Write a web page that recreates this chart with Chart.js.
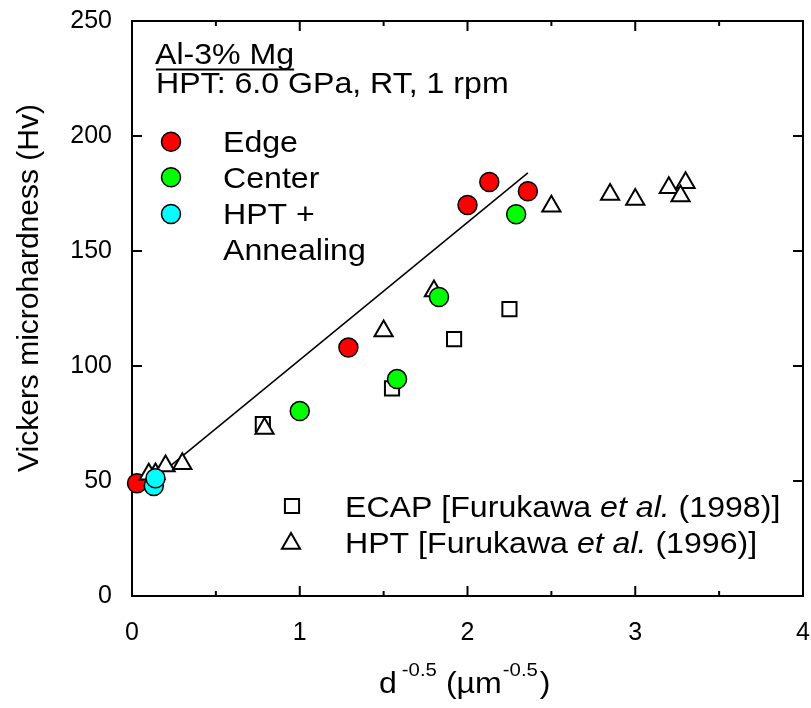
<!DOCTYPE html>
<html>
<head>
<meta charset="utf-8">
<script src="https://cdn.jsdelivr.net/npm/chart.js@4.4.1/dist/chart.umd.min.js"></script>
<style>
  html, body { margin: 0; padding: 0; background: #fff; }
</style>
</head>
<body>
<canvas id="hvChart" width="811" height="708"></canvas>
<script>
// values: [d^-0.5, Hv]
const edgePts = [[0.03, 49], [1.29, 108], [2.00, 170], [2.13, 180], [2.36, 176]];
const centerPts = [[1.00, 80.4], [1.58, 94.3], [1.83, 130], [2.29, 166]];
const annealPts = [[0.13, 47.8], [0.14, 51.2]];
const ecapPts = [[0.78, 74.8], [1.55, 90.3], [1.92, 111.7], [2.25, 124.7]];
const hptPts = [[0.10, 52.9], [0.14, 53], [0.20, 56.5], [0.30, 57.5], [0.79, 72.8], [1.50, 115.2],
                [1.80, 132.6], [2.50, 169.5], [2.85, 174.6], [3.00, 172.4], [3.20, 177.5], [3.30, 179.7], [3.27, 173.9]];
const fitLine = [[0.22, 56], [2.36, 184]];

const xTicks = [0, 0.5, 1, 1.5, 2, 2.5, 3, 3.5, 4];
const yTicks = [0, 50, 100, 150, 200, 250];

const FONT = "'Liberation Sans', Arial, sans-serif";
const SX = 1.07; // the original text is a little wider than Arial

const toXY = pts => pts.map(p => ({ x: p[0], y: p[1] }));

function txt(ctx, s, x, y, size, italic) {
    ctx.save();
    ctx.font = (italic ? "italic " : "") + size + "px " + FONT;
    ctx.translate(x, y);
    ctx.scale(SX, 1);
    ctx.fillText(s, 0, 0);
    const w = ctx.measureText(s).width * SX;
    ctx.restore();
    return x + w;
}

const framePlugin = {
    id: "frame",
    beforeDatasetsDraw(chart) {
        const { ctx, chartArea: a, scales: { x, y } } = chart;
        ctx.save();
        ctx.strokeStyle = "#000";
        ctx.lineWidth = 2;
        ctx.strokeRect(a.left, a.top, a.right - a.left, a.bottom - a.top);
        ctx.beginPath();
        xTicks.forEach(v => {
            const px = x.getPixelForValue(v);
            const len = Number.isInteger(v) ? 10 : 5;
            ctx.moveTo(px, a.bottom); ctx.lineTo(px, a.bottom - len);
            ctx.moveTo(px, a.top); ctx.lineTo(px, a.top + len);
        });
        yTicks.forEach(v => {
            const py = y.getPixelForValue(v);
            ctx.moveTo(a.left, py); ctx.lineTo(a.left + 10, py);
            ctx.moveTo(a.right, py); ctx.lineTo(a.right - 10, py);
        });
        ctx.stroke();
        ctx.restore();
    },
    afterDraw(chart) {
        const { ctx } = chart;
        const dp = Chart.helpers.drawPoint;
        ctx.save();
        ctx.fillStyle = "#000";
        ctx.textBaseline = "alphabetic";

        // heading
        const endA = txt(ctx, "Al-3% Mg", 155, 64, 30);
        ctx.fillRect(156, 68.5, endA - 156, 2);
        txt(ctx, "HPT: 6.0 GPa, RT, 1 rpm", 156, 93, 30);

        // upper legend
        [["#ff0000", 141.7], ["#00ff00", 177.3], ["#00ffff", 214]].forEach(([c, cy]) => {
            ctx.beginPath();
            ctx.arc(171, cy, 9.5, 0, Math.PI * 2);
            ctx.fillStyle = c; ctx.fill();
            ctx.lineWidth = 1.5; ctx.strokeStyle = "#000"; ctx.stroke();
        });
        ctx.fillStyle = "#000";
        txt(ctx, "Edge", 223, 152, 30);
        txt(ctx, "Center", 223, 188, 30);
        txt(ctx, "HPT +", 223, 224, 30);
        txt(ctx, "Annealing", 223, 260, 30);

        // lower legend
        ctx.fillStyle = "#fff";
        ctx.strokeStyle = "#000";
        ctx.lineWidth = 2;
        dp(ctx, { pointStyle: "rect", rotation: 0, radius: 10, borderWidth: 2 }, 292, 506);
        dp(ctx, { pointStyle: "triangle", rotation: 0, radius: 10.5, borderWidth: 2 }, 291, 543.6);
        ctx.fillStyle = "#000";
        let xx = txt(ctx, "ECAP [Furukawa ", 345, 517, 30);
        xx = txt(ctx, "et al.", xx, 517, 30, true);
        txt(ctx, " (1998)]", xx, 517, 30);
        xx = txt(ctx, "HPT [Furukawa ", 345, 553, 30);
        xx = txt(ctx, "et al.", xx, 553, 30, true);
        txt(ctx, " (1996)]", xx, 553, 30);

        // x title
        let tx = txt(ctx, "d", 379, 693, 30);
        tx = txt(ctx, "-0.5", tx + 5, 676, 19);
        tx = txt(ctx, "(\u00b5m", tx + 9, 693, 30);
        tx = txt(ctx, "-0.5", tx + 1, 676, 19);
        txt(ctx, ")", tx + 2, 693, 30);

        // y title
        ctx.save();
        ctx.translate(38, 288);
        ctx.rotate(-Math.PI / 2);
        ctx.font = "30px " + FONT;
        ctx.textAlign = "center";
        ctx.fillText("Vickers microhardness (Hv)", 0, 0);
        ctx.restore();

        ctx.restore();
    }
};

const pointSet = (label, pts, style, radius, fill, bw) => ({
    label,
    data: toXY(pts),
    pointStyle: style,
    pointRadius: radius,
    pointHoverRadius: radius,
    backgroundColor: fill,
    borderColor: "#000",
    borderWidth: bw,
    showLine: false,
    clip: false
});

new Chart(document.getElementById("hvChart"), {
    type: "scatter",
    data: {
        datasets: [
            pointSet("HPT + Annealing", annealPts, "circle", 9.5, "#00ffff", 1.5),
            pointSet("Center", centerPts, "circle", 9.5, "#00ff00", 1.5),
            pointSet("HPT [Furukawa et al. (1996)]", hptPts, "triangle", 10.5, "#fff", 2),
            pointSet("Edge", edgePts, "circle", 9.5, "#ff0000", 1.5),
            pointSet("ECAP [Furukawa et al. (1998)]", ecapPts, "rect", 10, "#fff", 2),
            {
                type: "line",
                label: "fit",
                data: toXY(fitLine),
                borderColor: "#000",
                borderWidth: 1.5,
                pointRadius: 0,
                fill: false,
                tension: 0
            }
        ]
    },
    options: {
        responsive: false,
        animation: false,
        devicePixelRatio: 1,
        layout: { autoPadding: false, padding: { left: 0, right: 8, top: 21, bottom: 0 } },
        plugins: { legend: { display: false }, tooltip: { enabled: false } },
        scales: {
            x: {
                type: "linear",
                min: 0, max: 4,
                grid: { display: false, drawTicks: false },
                border: { display: false },
                ticks: { stepSize: 1, color: "#000", padding: 22, font: { family: FONT, size: 25 } },
                afterFit(s) { s.height = 112; s.paddingLeft = 0; s.paddingRight = 0; }
            },
            y: {
                type: "linear",
                min: 0, max: 250,
                grid: { display: false, drawTicks: false },
                border: { display: false },
                ticks: { stepSize: 50, color: "#000", padding: 20, font: { family: FONT, size: 25 } },
                afterFit(s) { s.width = 132; s.paddingTop = 0; s.paddingBottom = 0; }
            }
        }
    },
    plugins: [framePlugin]
});
</script>
</body>
</html>
